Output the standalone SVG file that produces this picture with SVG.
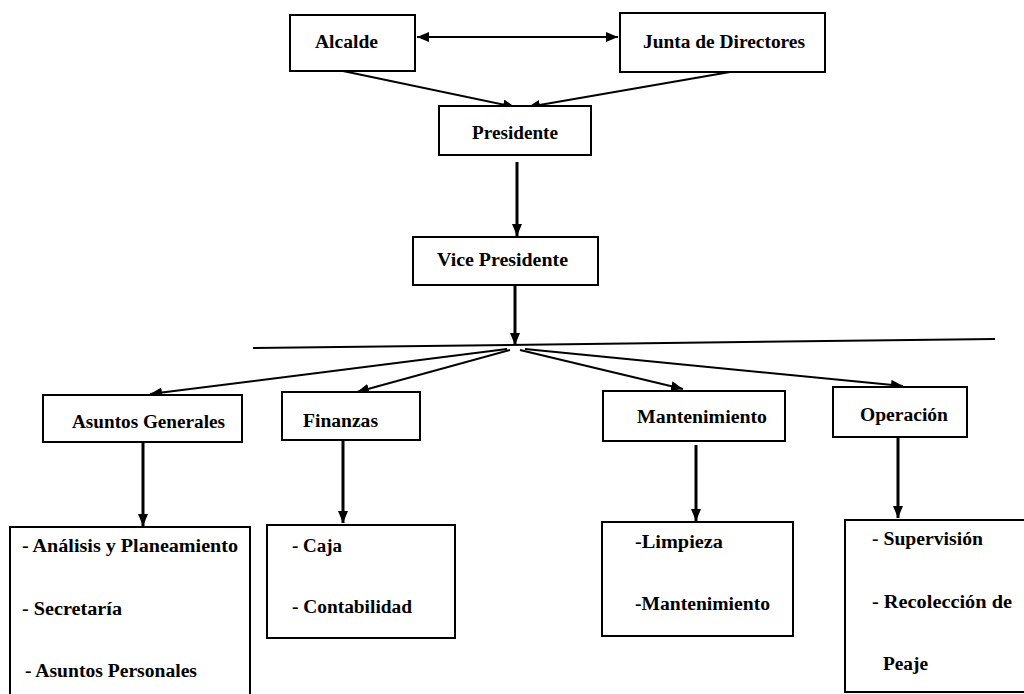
<svg xmlns="http://www.w3.org/2000/svg" width="1024" height="694" viewBox="0 0 1024 694">
<defs>
<style>
.box{fill:#fff;stroke:#000;stroke-width:2}
.t{font-family:"Liberation Serif","Times New Roman",serif;font-size:18px;font-weight:bold;fill:#000}
.c{stroke:#000;stroke-width:2;fill:none}
.v{stroke:#000;stroke-width:3;fill:none}
</style>
<marker id="ah" viewBox="0 0 12 10" refX="12" refY="5" markerWidth="12" markerHeight="10" markerUnits="userSpaceOnUse" orient="auto-start-reverse">
<path d="M0,0 L12,5 L0,10 z" fill="#000"/>
</marker>
</defs>
<rect width="1024" height="694" fill="#fff"/>
<g id="connectors">
<line class="c" x1="417" y1="37" x2="618" y2="37" marker-start="url(#ah)" marker-end="url(#ah)"/>
<line class="c" x1="343" y1="71" x2="515" y2="107" marker-end="url(#ah)"/>
<line class="c" x1="730" y1="72" x2="528" y2="107" marker-end="url(#ah)"/>
<line class="v" x1="517" y1="162" x2="517" y2="236" marker-end="url(#ah)"/>
<line class="v" x1="515" y1="285" x2="515" y2="345" marker-end="url(#ah)"/>
<line class="c" x1="253" y1="348" x2="995" y2="339" stroke-width="1.5"/>
<line class="c" x1="507" y1="349" x2="150" y2="394" marker-end="url(#ah)"/>
<line class="c" x1="510" y1="350" x2="357" y2="392" marker-end="url(#ah)"/>
<line class="c" x1="520" y1="350" x2="683" y2="389" marker-end="url(#ah)"/>
<line class="c" x1="525" y1="349" x2="903" y2="386" marker-end="url(#ah)"/>
<line class="v" x1="143" y1="442" x2="143" y2="526" marker-end="url(#ah)"/>
<line class="v" x1="343" y1="440" x2="343" y2="523" marker-end="url(#ah)"/>
<line class="v" x1="696" y1="445" x2="696" y2="521" marker-end="url(#ah)"/>
<line class="v" x1="898" y1="437" x2="898" y2="518" marker-end="url(#ah)"/>
</g>
<g id="alcalde">
<rect class="box" x="290" y="15" width="125" height="56"/>
<text class="t" x="315" y="48" textLength="63" lengthAdjust="spacingAndGlyphs">Alcalde</text>
</g>
<g id="junta">
<rect class="box" x="620" y="13" width="205" height="59"/>
<text class="t" x="643" y="48" textLength="162" lengthAdjust="spacingAndGlyphs">Junta de Directores</text>
</g>
<g id="presidente">
<rect class="box" x="439" y="106" width="152" height="49"/>
<text class="t" x="472" y="139" textLength="86" lengthAdjust="spacingAndGlyphs">Presidente</text>
</g>
<g id="vicepresidente">
<rect class="box" x="413" y="237" width="185" height="48"/>
<text class="t" x="437" y="266" textLength="131" lengthAdjust="spacingAndGlyphs">Vice Presidente</text>
</g>
<g id="asuntos">
<rect class="box" x="43" y="395" width="199" height="47"/>
<text class="t" x="72" y="428" textLength="153" lengthAdjust="spacingAndGlyphs">Asuntos Generales</text>
</g>
<g id="finanzas">
<rect class="box" x="282" y="392" width="138" height="48"/>
<text class="t" x="303" y="427" textLength="75" lengthAdjust="spacingAndGlyphs">Finanzas</text>
</g>
<g id="mantenimiento">
<rect class="box" x="603" y="391" width="182" height="50"/>
<text class="t" x="637" y="423" textLength="130" lengthAdjust="spacingAndGlyphs">Mantenimiento</text>
</g>
<g id="operacion">
<rect class="box" x="833" y="387" width="134" height="50"/>
<text class="t" x="860" y="421" textLength="88" lengthAdjust="spacingAndGlyphs">Operación</text>
</g>
<g id="asuntos-list">
<rect class="box" x="10" y="527" width="240" height="175"/>
<text class="t" x="22" y="552" textLength="216" lengthAdjust="spacingAndGlyphs">- Análisis y Planeamiento</text>
<text class="t" x="22" y="615" textLength="100" lengthAdjust="spacingAndGlyphs">- Secretaría</text>
<text class="t" x="25" y="677" textLength="172" lengthAdjust="spacingAndGlyphs">- Asuntos Personales</text>
</g>
<g id="finanzas-list">
<rect class="box" x="267" y="525" width="188" height="113"/>
<text class="t" x="292" y="552" textLength="50" lengthAdjust="spacingAndGlyphs">- Caja</text>
<text class="t" x="292" y="613" textLength="120" lengthAdjust="spacingAndGlyphs">- Contabilidad</text>
</g>
<g id="mantenimiento-list">
<rect class="box" x="602" y="522" width="191" height="114"/>
<text class="t" x="635" y="548" textLength="88" lengthAdjust="spacingAndGlyphs">-Limpieza</text>
<text class="t" x="635" y="610" textLength="135" lengthAdjust="spacingAndGlyphs">-Mantenimiento</text>
</g>
<g id="operacion-list">
<rect class="box" x="845" y="520" width="190" height="172"/>
<text class="t" x="872" y="545" textLength="111" lengthAdjust="spacingAndGlyphs">- Supervisión</text>
<text class="t" x="872" y="608" textLength="140" lengthAdjust="spacingAndGlyphs">- Recolección de</text>
<text class="t" x="883" y="670" textLength="45" lengthAdjust="spacingAndGlyphs">Peaje</text>
</g>
</svg>
